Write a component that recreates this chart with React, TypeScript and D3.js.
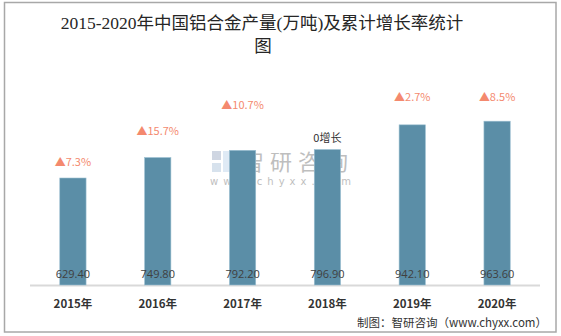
import React from "react";
import * as d3 from "d3";

const years = ["2015年", "2016年", "2017年", "2018年", "2019年", "2020年"];
const output = [629.4, 749.8, 792.2, 796.9, 942.1, 963.6];
const growthLabels = ["▲7.3%", "▲15.7%", "▲10.7%", "0增长", "▲2.7%", "▲8.5%"];
// invisible helper series that positions the growth labels (data units)
const growthLevel = [723, 906, 1059, 865, 1106, 1106];

const W = 561;
const H = 336;

export default function App() {
  const x = d3.scaleBand<string>().domain(years).range([30.5, 539.5]).paddingInner(0.69).paddingOuter(0.345);
  const y = d3.scaleLinear().domain([0, 1000]).range([285, 115]);
  const bw = x.bandwidth();
  const cjk = "'Noto Sans CJK SC', sans-serif";
  return (
    <svg width={W} height={H} style={{ position: "absolute", left: 0, top: 0 }}>
      <rect x={0} y={0} width={W} height={H} fill="#fff" />
      <rect x={4.5} y={2.5} width={551.5} height={329.5} fill="none" stroke="#a8a8a8" strokeWidth={1.5} />
      <text x={262} y={29} textAnchor="middle" fontFamily="'Liberation Serif', 'Noto Sans CJK SC', serif" fontSize={17.5} fill="#262626">
        2015-2020年中国铝合金产量(万吨)及累计增长率统计
      </text>
      <text x={263} y={52} textAnchor="middle" fontFamily="'Liberation Serif', 'Noto Sans CJK SC', serif" fontSize={17.5} fill="#262626">
        图
      </text>
      {/* watermark */}
      <g opacity={0.55}>
        <rect x={212} y={151} width={9} height={9} fill="#a9b6cc" />
        <rect x={212} y={163} width={9} height={9} fill="#b8cbe0" />
        <rect x={223} y={151} width={10} height={21} fill="#c5d9ee" />
        <text x={242} y={170} fontFamily={cjk} fontSize={22} fill="#8a8a8a" letterSpacing={6}>
          智研咨询
        </text>
        <text x={210} y={185} fontFamily="'DejaVu Sans', sans-serif" fontSize={10} fill="#8a8a8a" letterSpacing={5}>
          www.chyxx.com
        </text>
      </g>
      <line x1={30} x2={540} y1={285.5} y2={285.5} stroke="#d9d9d9" strokeWidth={2} />
      {years.map((yr, i) => (
        <g key={yr}>
          <rect
            x={x(yr)!}
            y={y(output[i])}
            width={bw}
            height={y(0) - y(output[i])}
            fill="#5b8ea7"
            stroke="#9cc0d2"
            strokeWidth={0.6}
          />
          <text
            x={x(yr)! + bw / 2}
            y={278}
            textAnchor="middle"
            fontFamily="'Open Sans', 'DejaVu Sans', sans-serif"
            fontSize={11}
            fill="#404040"
          >
            {output[i].toFixed(2)}
          </text>
          <text
            x={x(yr)! + bw / 2}
            y={y(growthLevel[i]) + 4}
            textAnchor="middle"
            fontFamily={cjk}
            fontSize={11}
            fill={growthLabels[i].startsWith("▲") ? "#f4896e" : "#333"}
          >
            {growthLabels[i]}
          </text>
          <text
            x={x(yr)! + bw / 2}
            y={308}
            textAnchor="middle"
            fontFamily={cjk}
            fontWeight="bold"
            fontSize={11.5}
            fill="#333"
          >
            {yr}
          </text>
        </g>
      ))}
      <text x={547} y={327} textAnchor="end" fontFamily={cjk} fontSize={11.5} fill="#333">
        制图：智研咨询（www.chyxx.com）
      </text>
    </svg>
  );
}
